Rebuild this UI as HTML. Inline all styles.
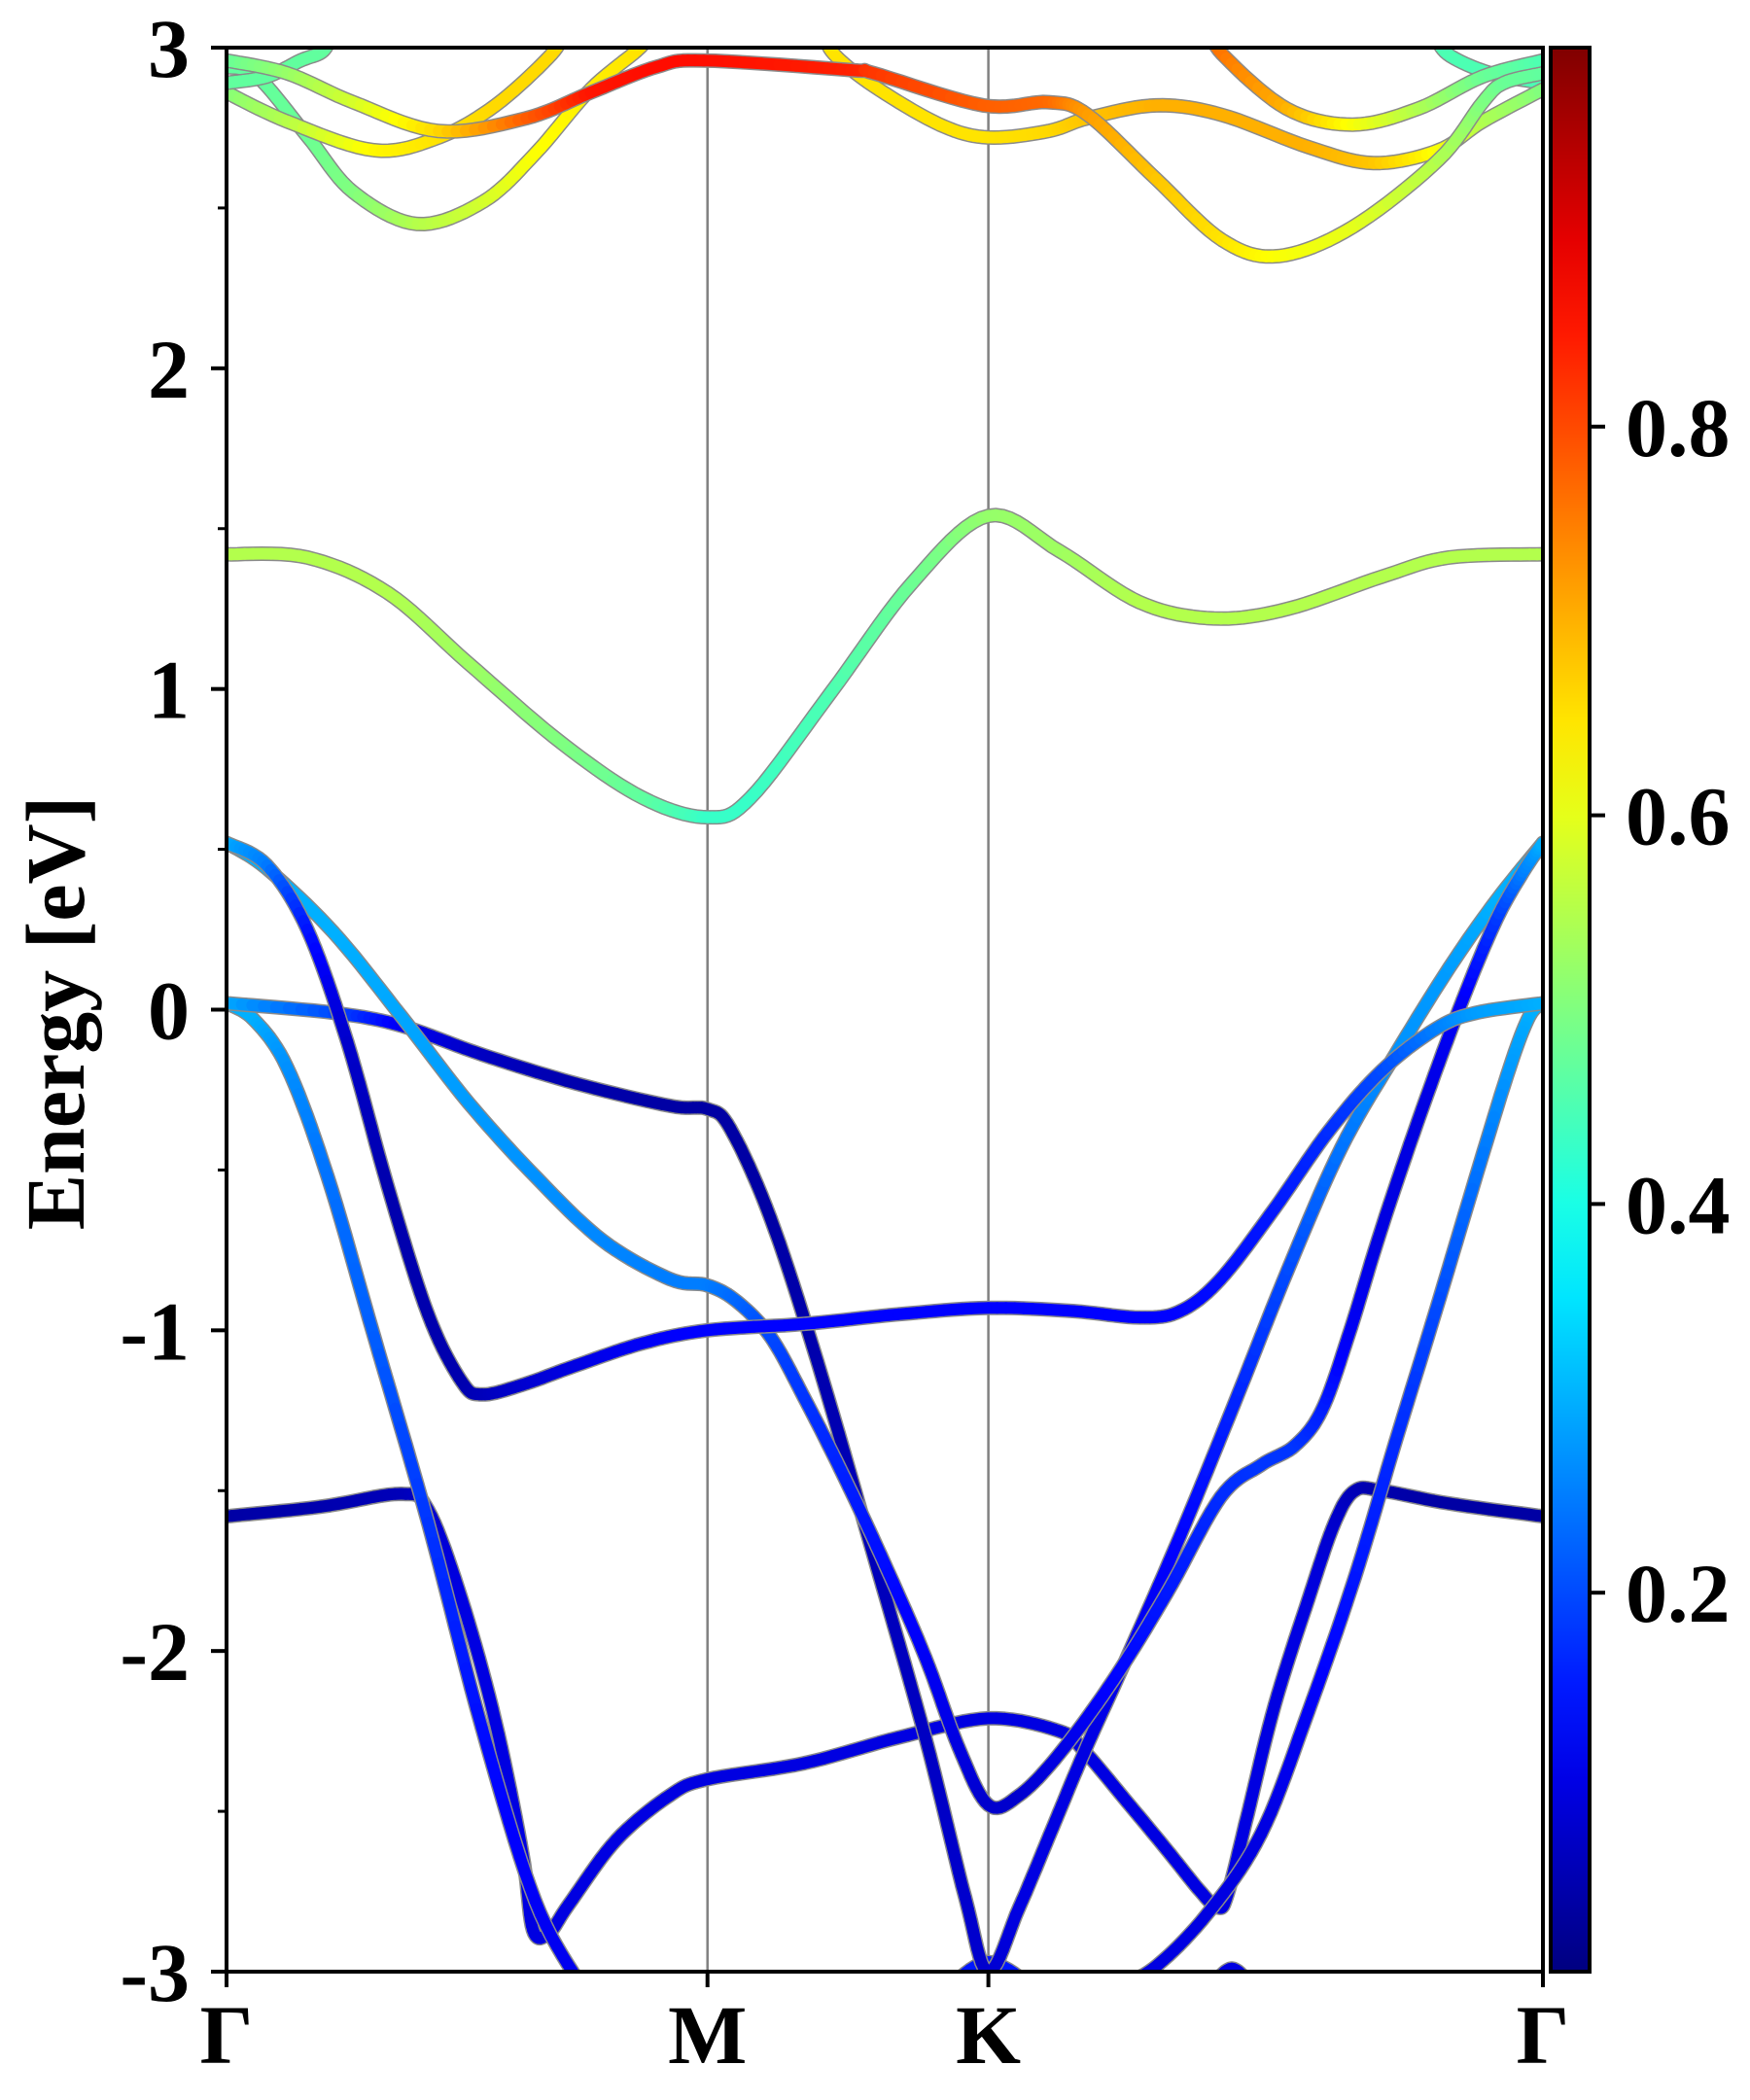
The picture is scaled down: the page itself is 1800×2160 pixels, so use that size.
<!DOCTYPE html>
<html>
<head>
<meta charset="utf-8">
<style>
html,body{margin:0;padding:0;background:#fff;}
svg{display:block;}
text{font-family:"Liberation Serif","DejaVu Serif",serif;font-weight:bold;fill:#000;}
</style>
</head>
<body>
<svg id="chart" width="1800" height="2160" viewBox="0 0 1800 2160" xmlns="http://www.w3.org/2000/svg">
  <defs>
    <clipPath id="plotclip"><rect x="233" y="49" width="1354" height="1979"/></clipPath>
    <linearGradient id="jetgrad" x1="0" y1="1" x2="0" y2="0"></linearGradient>
  </defs>
  <g id="bands" clip-path="url(#plotclip)"></g>
  <g id="axes"></g>
</svg>
<script>
// ---- data ----
const kLabels = ["Γ","M","K","Γ"];
const kTicks = [0, 1, 1.584, 2.737];
const yTicks = [-3,-2,-1,0,1,2,3];
const yTickLabels = ["-3","-2","-1","0","1","2","3"];
const cbTicks = [0.2,0.4,0.6,0.8];
const cbTickLabels = ["0.2","0.4","0.6","0.8"];
const cbMin = 0.005, cbMax = 0.995;

const cb1K = [0,.168,.335,.503,.698,.866,1,1.089,1.257,1.425,1.584,1.732,1.899,2.053,2.207,2.402,2.542,2.737];
const cb1E = [1.42,1.41,1.30,1.08,0.83,0.66,0.60,0.66,0.99,1.33,1.54,1.43,1.27,1.22,1.25,1.35,1.41,1.42];
const cb1W = [0.55,0.55,0.55,0.53,0.5,0.47,0.43,0.43,0.45,0.48,0.52,0.53,0.55,0.55,0.55,0.55,0.55,0.55];

const vAK = [0,.084,.168,.251,.335,.419,.489,.531,.615,.726,.866,1,1.201,1.397,1.584,1.760,1.899,1.983,2.067,2.179,2.291,2.402,2.514,2.598,2.737];
const vAE = [.52,.45,.25,-.10,-.55,-.95,-1.16,-1.20,-1.17,-1.11,-1.04,-1.00,-.98,-.95,-.93,-.94,-.96,-.94,-.84,-.62,-.38,-.19,-.06,-.01,.02];
const vAW = [.3,.25,.15,.08,.05,.05,.05,.06,.08,.1,.12,.13,.13,.13,.13,.13,.13,.13,.14,.15,.17,.2,.25,.28,.3];

const vBK = [0,.084,.223,.363,.503,.642,.782,.922,1,1.061,1.131,1.201,1.285,1.369,1.453,1.522,1.584,1.648,1.732,1.844,1.955,2.067,2.151,2.221,2.277,2.332,2.402,2.486,2.570,2.640,2.696,2.737];
const vBE = [.52,.44,.24,-.02,-.29,-.52,-.72,-.84,-.86,-.91,-1.02,-1.21,-1.46,-1.73,-2.02,-2.30,-2.48,-2.45,-2.32,-2.09,-1.82,-1.52,-1.42,-1.36,-1.25,-1.02,-.68,-.31,.03,.28,.43,.52];
const vBW = [.3,.3,.3,.29,.28,.27,.26,.25,.25,.23,.2,.18,.16,.14,.12,.1,.08,.08,.1,.13,.15,.17,.18,.18,.16,.12,.1,.1,.12,.18,.25,.3];

const vCK = [0,.223,.363,.531,.726,.922,1,1.047,1.131,1.229,1.341,1.453,1.536,1.584,1.648,1.718,1.782,1.872,1.983,2.095,2.207,2.318,2.430,2.542,2.640,2.737];
const vCE = [.02,-.01,-.05,-.14,-.23,-.30,-.31,-.37,-.65,-1.10,-1.68,-2.27,-2.77,-3.0,-2.80,-2.55,-2.32,-2.02,-1.64,-1.23,-.81,-.43,-.14,.13,.34,.52];
const vCW = [.3,.2,.12,.07,.05,.04,.04,.04,.04,.05,.06,.07,.08,.08,.1,.1,.1,.11,.13,.16,.2,.24,.27,.28,.3,.3];

const vDK = [0,.056,.126,.210,.307,.419,.531,.642,.740];
const vDE = [.02,-.03,-.18,-.52,-1.02,-1.60,-2.24,-2.78,-3.05];
const vDW = [.3,.3,.27,.24,.22,.18,.14,.12,.11];

const vEK = [0,.196,.363,.419,.489,.559,.615,.637,.670,.712,.810,.922,1,1.201,1.397,1.584,1.732,1.782,1.872,1.955,2.025,2.061,2.081,2.123,2.179,2.249,2.304,2.346,2.402,2.542,2.737];
const vEE = [-1.58,-1.55,-1.51,-1.56,-1.84,-2.22,-2.63,-2.87,-2.88,-2.79,-2.59,-2.45,-2.40,-2.35,-2.27,-2.21,-2.25,-2.31,-2.47,-2.62,-2.75,-2.80,-2.76,-2.51,-2.17,-1.84,-1.60,-1.50,-1.50,-1.54,-1.58];
const vEW = [.04,.05,.06,.08,.1,.1,.1,.1,.1,.1,.1,.1,.1,.1,.1,.1,.1,.1,.1,.1,.1,.1,.1,.1,.1,.1,.08,.06,.05,.04,.04];

const vHK = [2.737,2.709,2.668,2.598,2.514,2.430,2.346,2.249,2.151,2.039,1.927,1.844];
const vHE = [.02,-.02,-.18,-.52,-.94,-1.35,-1.77,-2.19,-2.57,-2.82,-2.99,-3.05];
const vHW = [.3,.3,.28,.24,.2,.17,.15,.12,.1,.1,.1,.1];

const vIK = [1.50,1.584,1.68];
const vIE = [-3.05,-2.97,-3.05];
const vIW = [.15,.15,.15];

const vJK = [2.05,2.09,2.13];
const vJE = [-3.04,-2.99,-3.04];
const vJW = [.1,.1,.1];

const c1K = [0,.084,.154,.201,.22];
const c1E = [2.89,2.91,2.96,2.99,3.05];
const c1W = [.47,.47,.47,.47,.47];

const c2K = [0,.126,.263,.441,.623,.757,.894,.992,1.299,1.346,1.573,1.709,1.791,1.933,2.070,2.187,2.341,2.520,2.612,2.656,2.737];
const c2E = [2.96,2.92,2.83,2.74,2.78,2.86,2.94,2.96,2.93,2.92,2.82,2.83,2.79,2.59,2.40,2.35,2.44,2.65,2.83,2.89,2.92];
const c2W = [.47,.52,.58,.66,.78,.85,.86,.86,.84,.82,.78,.77,.72,.68,.65,.62,.6,.55,.5,.48,.47];

const c3K = [0,.126,.307,.441,.559,.676,.70];
const c3E = [2.86,2.77,2.68,2.72,2.82,2.98,3.05];
const c3W = [.5,.55,.63,.65,.66,.66,.66];

const c4K = [0,.064,.170,.263,.397,.534,.642,.757,.860,.88];
const c4E = [2.94,2.91,2.72,2.55,2.45,2.52,2.67,2.87,3.0,3.05];
const c4W = [.47,.47,.48,.5,.55,.58,.62,.64,.65,.65];

const c5K = [1.24,1.263,1.346,1.483,1.584,1.709,1.791,1.933,2.070,2.249,2.385,2.520,2.612,2.737];
const c5E = [3.05,2.98,2.88,2.76,2.72,2.74,2.78,2.82,2.79,2.69,2.64,2.68,2.77,2.87];
const c5W = [.65,.65,.65,.65,.65,.66,.68,.7,.7,.7,.68,.62,.55,.5];

const c6K = [2.05,2.070,2.204,2.341,2.478,2.612,2.737];
const c6E = [3.05,2.98,2.81,2.76,2.81,2.91,2.96];
const c6W = [.76,.76,.7,.62,.55,.48,.45];

const c7K = [2.51,2.539,2.628,2.737];
const c7E = [3.05,2.98,2.92,2.89];
const c7W = [.45,.45,.45,.45];

// ---- layout ----
const X0 = 233, X1 = 1587, Y0 = 49, Y1 = 2028;
const kMax = 2.737, eMin = -3, eMax = 3;
function xs(k){ return X0 + k / kMax * (X1 - X0); }
function ys(e){ return Y0 + (eMax - e) / (eMax - eMin) * (Y1 - Y0); }
function cbY(v){ return Y1 - (v - cbMin) / (cbMax - cbMin) * (Y1 - Y0); }

function jet(t){
  t = Math.max(0, Math.min(1, t));
  const r = Math.max(0, Math.min(1, 1.5 - Math.abs(4*t - 3)));
  const g = Math.max(0, Math.min(1, 1.5 - Math.abs(4*t - 2)));
  const b = Math.max(0, Math.min(1, 1.5 - Math.abs(4*t - 1)));
  return "rgb(" + Math.round(r*255) + "," + Math.round(g*255) + "," + Math.round(b*255) + ")";
}
function wColor(w){ return jet((w - cbMin) / (cbMax - cbMin)); }

const NS = "http://www.w3.org/2000/svg";
function mk(tag, attrs, parent){
  const el = document.createElementNS(NS, tag);
  for (const a in attrs) el.setAttribute(a, attrs[a]);
  parent.appendChild(el);
  return el;
}

const bandsG = document.getElementById("bands");
const axesG = document.getElementById("axes");

[1,2].forEach(function(i){
  const l = mk("line", {x1: xs(kTicks[i]), x2: xs(kTicks[i]), y1: Y0, y2: Y1, stroke: "#808080", "stroke-width": 2.5}, bandsG);
  
  
});

function drawBand(K, E, W, name){
  const g = mk("g", {}, bandsG);
  
  
  const P = K.map(function(k, i){ return [xs(k), ys(E[i]), W[i]]; });
  const samples = [];
  const n = P.length;
  for (let i = 0; i < n - 1; i++){
    const p0 = P[Math.max(0, i-1)], p1 = P[i], p2 = P[i+1], p3 = P[Math.min(n-1, i+2)];
    const steps = 10;
    for (let s = 0; s < steps; s++){
      const t = s / steps, t2 = t*t, t3 = t2*t;
      const x = 0.5*((2*p1[0]) + (-p0[0]+p2[0])*t + (2*p0[0]-5*p1[0]+4*p2[0]-p3[0])*t2 + (-p0[0]+3*p1[0]-3*p2[0]+p3[0])*t3);
      const y = 0.5*((2*p1[1]) + (-p0[1]+p2[1])*t + (2*p0[1]-5*p1[1]+4*p2[1]-p3[1])*t2 + (-p0[1]+3*p1[1]-3*p2[1]+p3[1])*t3);
      samples.push([x, y, p1[2] + (p2[2]-p1[2])*t]);
    }
  }
  samples.push(P[n-1]);
  const pts = samples.map(function(s){ return s[0].toFixed(1) + "," + s[1].toFixed(1); }).join(" ");
  const outline = mk("polyline", {points: pts, fill: "none", stroke: "#8a8a8a", "stroke-width": 15, "stroke-linejoin": "round", "stroke-linecap": "round"}, g);
  
  
  for (let i = 0; i < samples.length - 1; i++){
    const a = samples[i], b = samples[i+1];
    const seg = mk("line", {x1: a[0].toFixed(1), y1: a[1].toFixed(1), x2: b[0].toFixed(1), y2: b[1].toFixed(1), stroke: wColor((a[2]+b[2])/2), "stroke-width": 12, "stroke-linecap": "round"}, g);
    
    
  }
}

drawBand(vEK, vEE, vEW, "valence-band-e");
drawBand(vDK, vDE, vDW, "valence-band-d");
drawBand(vHK, vHE, vHW, "valence-band-h");
drawBand(vIK, vIE, vIW, "valence-band-i");
drawBand(vJK, vJE, vJW, "valence-band-j");
drawBand(vCK, vCE, vCW, "valence-band-c");
drawBand(vBK, vBE, vBW, "valence-band-b");
drawBand(vAK, vAE, vAW, "valence-band-a");
drawBand(cb1K, cb1E, cb1W, "conduction-band-1");
drawBand(c4K, c4E, c4W, "conduction-band-4");
drawBand(c3K, c3E, c3W, "conduction-band-3");
drawBand(c1K, c1E, c1W, "conduction-band-1b");
drawBand(c7K, c7E, c7W, "conduction-band-7");
drawBand(c6K, c6E, c6W, "conduction-band-6");
drawBand(c5K, c5E, c5W, "conduction-band-5");
drawBand(c2K, c2E, c2W, "conduction-band-2");

// ---- axes ----
const frame = mk("rect", {x: X0, y: Y0, width: X1-X0, height: Y1-Y0, fill: "none", stroke: "#000", "stroke-width": 4}, axesG);



yTicks.forEach(function(v, i){
  const y = ys(v);
  const t = mk("line", {x1: X0-16, x2: X0, y1: y, y2: y, stroke: "#000", "stroke-width": 4}, axesG);
  
  
  const lb = mk("text", {x: 195, y: y + 30, "text-anchor": "end", "font-size": 86}, axesG);
  lb.textContent = yTickLabels[i];
  
  
  if (i < yTicks.length - 1){
    const ym = ys(v + 0.5);
    const mt = mk("line", {x1: X0-9, x2: X0, y1: ym, y2: ym, stroke: "#000", "stroke-width": 3}, axesG);
    
    
  }
});

kTicks.forEach(function(k, i){
  const x = xs(k);
  const t = mk("line", {x1: x, x2: x, y1: Y1, y2: Y1+16, stroke: "#000", "stroke-width": 4}, axesG);
  
  
  const lb = mk("text", {x: x, y: 2122, "text-anchor": "middle", "font-size": 86}, axesG);
  lb.textContent = kLabels[i];
  
  
});

const yTitle = mk("text", {x: 0, y: 0, "text-anchor": "middle", "font-size": 86, transform: "translate(86,1042) rotate(-90)"}, axesG);
yTitle.textContent = "Energy [eV]";



// ---- colorbar ----
const grad = document.getElementById("jetgrad");
for (let i = 0; i <= 20; i++){
  mk("stop", {offset: (i/20), "stop-color": jet(i/20)}, grad);
}
const cbX = 1595, cbW = 40;
const cbRect = mk("rect", {x: cbX, y: Y0, width: cbW, height: Y1-Y0, fill: "url(#jetgrad)", stroke: "#000", "stroke-width": 4}, axesG);


cbTicks.forEach(function(v, i){
  const y = cbY(v);
  const t = mk("line", {x1: cbX+cbW, x2: cbX+cbW+16, y1: y, y2: y, stroke: "#000", "stroke-width": 4}, axesG);
  
  
  const lb = mk("text", {x: 1672, y: y + 30, "text-anchor": "start", "font-size": 86}, axesG);
  lb.textContent = cbTickLabels[i];
  
  
});
</script>
</body>
</html>
